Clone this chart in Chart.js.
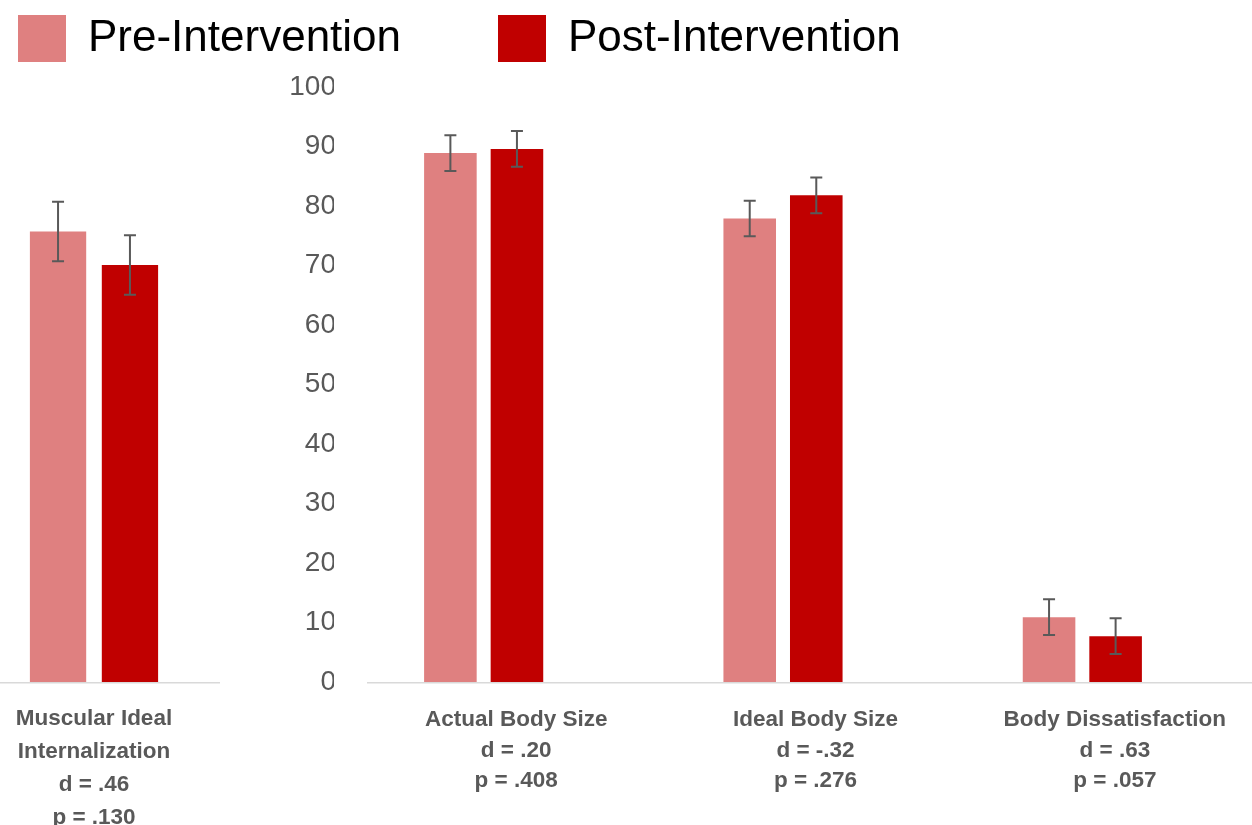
<!DOCTYPE html>
<html>
<head>
<meta charset="utf-8">
<title>Pre- vs Post-Intervention</title>
<script src="https://cdn.jsdelivr.net/npm/chart.js@4.4.1/dist/chart.umd.min.js"></script>
<style>
  html, body { margin: 0; padding: 0; background: #ffffff; }
  #wrap { position: relative; width: 1252px; height: 825px; overflow: hidden; }
  #wrap canvas { position: absolute; left: 0; top: 0; }
  #panel { z-index: 2; }
</style>
</head>
<body>
<div id="wrap">
  <canvas id="main" width="1252" height="825"></canvas>
  <canvas id="panel" width="240" height="825"></canvas>
</div>
<script>
// ---- data ----
const seriesNames = ['Pre-Intervention', 'Post-Intervention'];

// separate panel: muscular ideal internalization
const panelNames = [['Muscular Ideal', 'Internalization']];
const panelEffects = ['d = .46'];
const panelPValues = ['p = .130'];
const panelPre = [75.7];
const panelPost = [70.1];
const panelPreErr = [5.0];
const panelPostErr = [5.0];

// main panel: body size measures
const categoryNames = ['Actual Body Size', 'Ideal Body Size', 'Body Dissatisfaction'];
const effectSizes = ['d = .20', 'd = -.32', 'd = .63'];
const pValues = ['p = .408', 'p = .276', 'p = .057'];
const preValues = [88.9, 77.9, 10.9];
const postValues = [89.6, 81.8, 7.7];
const preErr = [3.0, 3.0, 3.0];
const postErr = [3.0, 3.0, 3.0];

const yMin = 0, yMax = 100, yStep = 10;

// ---- styling / geometry ----
const FONT = "'Liberation Sans', Arial, sans-serif";
const PRE_COLOR = '#DF8080';
const POST_COLOR = '#C00000';
const TEXT_GREY = '#595959';
const W = 1252, H = 825;
const PLOT_TOP = 87, PLOT_BOTTOM = 682;
const PLOT_LEFT = 334, PLOT_RIGHT = 1232;
const PANEL_W = 240, PANEL_RIGHT = 188;
const LEG_SIZE = 44, BOX_W = 48, BOX_H = 47;
const SW_X0 = 18, SW_X1 = 498, SW_Y = 15;

Chart.defaults.font.family = FONT;

// legend item spacing so the second swatch lands where wanted
const mctx = document.createElement('canvas').getContext('2d');
mctx.font = LEG_SIZE + 'px ' + FONT;
const firstTextW = mctx.measureText(seriesNames[0]).width;
const legPad = SW_X1 - SW_X0 - BOX_W - LEG_SIZE / 2 - firstTextW;
const legendBottom = SW_Y + Math.max(LEG_SIZE, BOX_H) + 10;

const buildLabels = (names, ds, ps) =>
  names.map((n, i) => [].concat(n, ds[i], ps[i]));

// ---- plugins ----
const errorBarPlugin = {
  id: 'errorBars',
  afterDatasetsDraw(chart, args, opts) {
    const { ctx } = chart;
    const y = chart.scales.y;
    ctx.save();
    ctx.strokeStyle = opts.color;
    ctx.lineWidth = opts.width;
    chart.data.datasets.forEach((ds, di) => {
      const meta = chart.getDatasetMeta(di);
      if (!ds.errorBars || meta.hidden) return;
      meta.data.forEach((bar, i) => {
        const v = ds.data[i], e = ds.errorBars[i];
        const top = y.getPixelForValue(v + e);
        const bot = y.getPixelForValue(v - e);
        const x = bar.x, h = opts.cap / 2;
        ctx.beginPath();
        ctx.moveTo(x, top); ctx.lineTo(x, bot);
        ctx.moveTo(x - h, top); ctx.lineTo(x + h, top);
        ctx.moveTo(x - h, bot); ctx.lineTo(x + h, bot);
        ctx.stroke();
      });
    });
    ctx.restore();
  }
};

const baselinePlugin = {
  id: 'baseline',
  beforeDatasetsDraw(chart, args, opts) {
    const { ctx } = chart;
    const y0 = chart.scales.y.getPixelForValue(0) + opts.width / 2;
    ctx.save();
    ctx.strokeStyle = opts.color;
    ctx.lineWidth = opts.width;
    ctx.beginPath();
    ctx.moveTo(opts.from, y0);
    ctx.lineTo(opts.to, y0);
    ctx.stroke();
    ctx.restore();
  }
};

// category axis: labels hang below the baseline, no grid lines drawn
const categoryAxis = (lineHeight, gap, labelOffset) => ({
  position: 'bottom',
  grid: { display: false, drawTicks: true, tickLength: gap },
  border: { display: false },
  ticks: {
    color: TEXT_GREY,
    font: { size: 22.5, weight: 'bold', lineHeight: lineHeight },
    padding: 0,
    labelOffset: labelOffset,
    maxRotation: 0,
    autoSkip: false
  },
  afterFit: (s) => { s.height = H - PLOT_BOTTOM; }
});

// ---- main chart ----
new Chart(document.getElementById('main'), {
  type: 'bar',
  data: {
    labels: buildLabels(categoryNames, effectSizes, pValues),
    datasets: [
      { label: seriesNames[0], data: preValues, errorBars: preErr,
        backgroundColor: PRE_COLOR, borderWidth: 0 },
      { label: seriesNames[1], data: postValues, errorBars: postErr,
        backgroundColor: POST_COLOR, borderWidth: 0 }
    ]
  },
  options: {
    responsive: false,
    animation: false,
    datasets: { bar: { categoryPercentage: 0.4447, barPercentage: 0.79 } },
    layout: { padding: { left: SW_X0 - legPad, top: SW_Y - legPad, right: W - PLOT_RIGHT, bottom: 0 } },
    plugins: {
      legend: {
        position: 'top',
        align: 'start',
        labels: { boxWidth: BOX_W, boxHeight: BOX_H, padding: legPad, color: '#000000',
                  font: { size: LEG_SIZE } }
      },
      tooltip: { enabled: false },
      baseline: { from: 367, to: W, color: '#d9d9d9', width: 1.5 },
      errorBars: { color: TEXT_GREY, width: 2, cap: 12 }
    },
    scales: {
      x: categoryAxis(1.356, 23, 32.5),
      gap: {
        type: 'category',
        position: 'top',
        grid: { display: false },
        border: { display: false },
        ticks: { display: false },
        afterFit: (s) => { s.height = PLOT_TOP - legendBottom; }
      },
      y: {
        min: yMin, max: yMax,
        grid: { display: false, drawTicks: false },
        border: { display: false },
        ticks: { stepSize: yStep, color: TEXT_GREY, font: { size: 28 }, padding: -2 },
        afterFit: (s) => { s.width = PLOT_LEFT - (SW_X0 - legPad); }
      }
    }
  },
  plugins: [errorBarPlugin, baselinePlugin]
});

// ---- separate panel chart ----
new Chart(document.getElementById('panel'), {
  type: 'bar',
  data: {
    labels: buildLabels(panelNames, panelEffects, panelPValues),
    datasets: [
      { label: seriesNames[0], data: panelPre, errorBars: panelPreErr,
        backgroundColor: PRE_COLOR, borderWidth: 0 },
      { label: seriesNames[1], data: panelPost, errorBars: panelPostErr,
        backgroundColor: POST_COLOR, borderWidth: 0 }
    ]
  },
  options: {
    responsive: false,
    animation: false,
    datasets: { bar: { categoryPercentage: 0.765, barPercentage: 0.783 } },
    layout: { padding: { left: 0, top: PLOT_TOP, right: PANEL_W - PANEL_RIGHT, bottom: 0 } },
    plugins: {
      legend: { display: false },
      tooltip: { enabled: false },
      baseline: { from: 0, to: 220, color: '#d9d9d9', width: 1.5 },
      errorBars: { color: TEXT_GREY, width: 2, cap: 12 }
    },
    scales: {
      x: categoryAxis(1.47, 20, 0),
      y: { display: false, min: yMin, max: yMax }
    }
  },
  plugins: [errorBarPlugin, baselinePlugin]
});
</script>
</body>
</html>
